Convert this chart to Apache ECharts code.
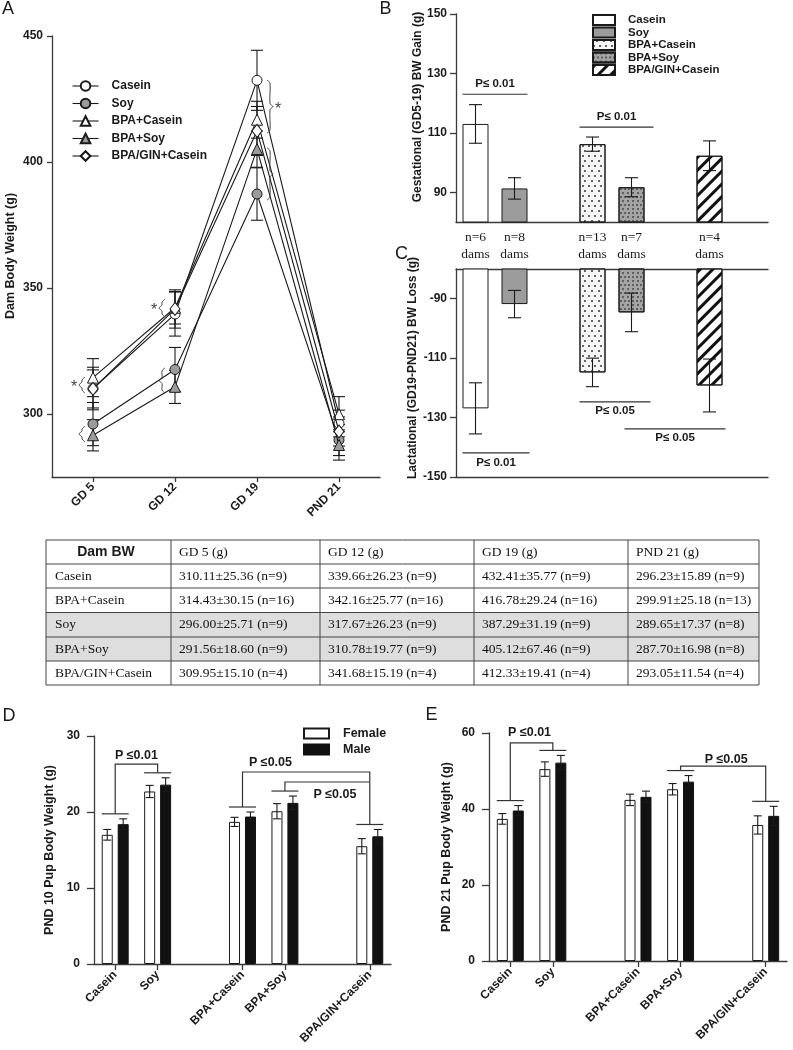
<!DOCTYPE html>
<html><head><meta charset="utf-8"><title>Dam and pup body weight</title>
<script src="https://cdn.jsdelivr.net/npm/echarts@6.0.0/dist/echarts.min.js"></script>
<style>html,body{margin:0;padding:0;background:#fff;}#chart{width:793px;height:1050px;}</style>
</head><body><div id="chart"></div><script>
// ================= DATA =================
const timePoints = ['GD 5', 'GD 12', 'GD 19', 'PND 21'];
const dietGroups = ['Casein', 'Soy', 'BPA+Casein', 'BPA+Soy', 'BPA/GIN+Casein'];
const gainSlots = ['Casein', 'Soy', ' ', 'BPA+Casein', 'BPA+Soy', '  ', 'BPA/GIN+Casein', '   '];
const pupSlots = ['Casein', 'Soy', ' ', 'BPA+Casein', 'BPA+Soy', '  ', 'BPA/GIN+Casein'];
const damTicks = [300, 350, 400, 450];
const gainTicks = [90, 110, 130, 150];
const lossTicks = [-150, -130, -110, -90];
const tableHeader = ['Dam BW', 'GD 5 (g)', 'GD 12 (g)', 'GD 19 (g)', 'PND 21 (g)'];
const tableOrder = ['Casein', 'BPA+Casein', 'Soy', 'BPA+Soy', 'BPA/GIN+Casein'];
const shadedRows = ['Soy', 'BPA+Soy'];

// Dam body weight: mean, SD, n (table) and SEM (error bars in panel A)
const caseinBW = [310.11, 339.66, 432.41, 296.23];
const caseinSD = [25.36, 26.23, 35.77, 15.89];
const caseinN = [9, 9, 9, 9];
const caseinSEM = [8.45, 8.74, 11.92, 5.30];
const soyBW = [296.00, 317.67, 387.29, 289.65];
const soySD = [25.71, 26.23, 31.19, 17.37];
const soyN = [9, 9, 9, 8];
const soySEM = [8.57, 8.74, 10.40, 6.14];
const bpaCaseinBW = [314.43, 342.16, 416.78, 299.91];
const bpaCaseinSD = [30.15, 25.77, 29.24, 25.18];
const bpaCaseinN = [16, 16, 16, 13];
const bpaCaseinSEM = [7.54, 6.44, 7.31, 6.98];
const bpaSoyBW = [291.56, 310.78, 405.12, 287.70];
const bpaSoySD = [18.60, 19.77, 67.46, 16.98];
const bpaSoyN = [9, 9, 9, 8];
const bpaSoySEM = [6.20, 6.59, 7.20, 6.00];
const bpaGinBW = [309.95, 341.68, 412.33, 293.05];
const bpaGinSD = [15.10, 15.19, 19.41, 11.54];
const bpaGinN = [4, 4, 4, 4];
const bpaGinSEM = [7.55, 7.60, 9.71, 5.77];

// Panels B and C (dietGroups order)
const gestGain = [113.0, 91.3, 106.2, 91.7, 102.3];
const gestGainErr = [6.5, 3.6, 2.4, 3.2, 5.0];
const lactLoss = [-126.9, -91.8, -114.8, -94.6, -119.2];
const lactLossErr = [8.6, 4.6, 4.8, 6.5, 8.9];
const damsN = [6, 8, 13, 7, 4];

// Panels D and E (dietGroups order)
const pnd10Female = [17.0, 22.7, 18.7, 20.1, 15.5];
const pnd10FemaleErr = [0.7, 0.8, 0.6, 1.0, 1.0];
const pnd10Male = [18.4, 23.6, 19.4, 21.2, 16.8];
const pnd10MaleErr = [0.7, 0.9, 0.6, 0.9, 0.9];
const pnd21Female = [37.4, 50.5, 42.4, 45.2, 35.8];
const pnd21FemaleErr = [1.4, 1.9, 1.5, 1.5, 2.4];
const pnd21Male = [39.6, 52.2, 43.2, 47.2, 38.2];
const pnd21MaleErr = [1.3, 1.9, 1.5, 1.6, 2.5];

// ================= STYLE =================
const SANS = 'Liberation Sans', SERIF = 'Liberation Serif', INK = '#1a1a1a', AX = '#3a3a3a';
const chart = echarts.init(document.getElementById('chart'));

const damMeans = [caseinBW, soyBW, bpaCaseinBW, bpaSoyBW, bpaGinBW];
const damSEMs = [caseinSEM, soySEM, bpaCaseinSEM, bpaSoySEM, bpaGinSEM];
const lineLook = [
  {symbol: 'circle', fill: '#ffffff', size: 10},
  {symbol: 'circle', fill: '#9b9b9b', size: 10},
  {symbol: 'triangle', fill: '#ffffff', size: 11},
  {symbol: 'triangle', fill: '#9b9b9b', size: 11},
  {symbol: 'diamond', fill: '#ffffff', size: [10, 13]}
];
const barLook = [
  {color: '#ffffff'},
  {color: '#9c9c9c'},
  {color: '#f6f6f6', decal: {symbol: 'circle', symbolSize: 1, dashArrayX: [[1.2, 3.8], [0, 2.5, 1.2, 1.3]], dashArrayY: [1.2, 2.3], color: '#333'}},
  {color: '#a4a4a4', decal: {symbol: 'circle', symbolSize: 1, dashArrayX: [[1.2, 2], [0, 1.6, 1.2, 0.4]], dashArrayY: [1.2, 1.2], color: '#4a4a4a'}},
  {color: '#ffffff', decal: {symbol: 'rect', symbolSize: 1, dashArrayX: [1, 0], dashArrayY: [2.6, 5.4], rotation: -Math.PI / 4, color: '#111'}}
];
const PUP_BAR_W = 11, PUP_GAP = 0.45;
const pupDx = PUP_BAR_W * (1 + PUP_GAP) / 2;

function errBar(cap, dx) {
  return function (params, api) {
    const x = api.value(0), m = api.value(1), e = api.value(2);
    const a = api.coord([x, m + e]), b = api.coord([x, m - e]);
    const cx = a[0] + dx, h = cap / 2;
    const s = {stroke: '#1a1a1a', lineWidth: 1.1};
    return {type: 'group', children: [
      {type: 'line', shape: {x1: cx, y1: a[1], x2: cx, y2: b[1]}, style: s},
      {type: 'line', shape: {x1: cx - h, y1: a[1], x2: cx + h, y2: a[1]}, style: s},
      {type: 'line', shape: {x1: cx - h, y1: b[1], x2: cx + h, y2: b[1]}, style: s}
    ]};
  };
}

const series = [];
// Panel A
dietGroups.forEach(function (g, i) {
  series.push({type: 'custom', name: 'errA' + i, xAxisIndex: 0, yAxisIndex: 0, z: 1, silent: true,
    data: timePoints.map(function (t, k) { return [k, damMeans[i][k], damSEMs[i][k]]; }),
    renderItem: errBar(12, 0)});
  series.push({type: 'line', name: g, xAxisIndex: 0, yAxisIndex: 0, z: 2 + i * 0.1,
    data: damMeans[i], symbol: lineLook[i].symbol, symbolSize: lineLook[i].size, showSymbol: true,
    lineStyle: {color: '#1a1a1a', width: 1.1},
    itemStyle: {color: lineLook[i].fill, borderColor: '#1a1a1a', borderWidth: 1}});
});
// Panels B, C
dietGroups.forEach(function (g, i) {
  const look = Object.assign({borderColor: '#1a1a1a', borderWidth: 1}, barLook[i]);
  series.push({type: 'bar', name: 'B:' + g, xAxisIndex: 1, yAxisIndex: 1, barWidth: 26, barGap: '-100%',
    clip: true, data: [[g, gestGain[i]]], itemStyle: look});
  series.push({type: 'custom', name: 'errB' + i, xAxisIndex: 1, yAxisIndex: 1, z: 5, silent: true,
    data: [[gainSlots.indexOf(g), gestGain[i], gestGainErr[i]]], renderItem: errBar(13, 0)});
  series.push({type: 'bar', name: 'C:' + g, xAxisIndex: 2, yAxisIndex: 2, barWidth: 26, barGap: '-100%',
    clip: true, data: [[g, lactLoss[i]]], itemStyle: look});
  series.push({type: 'custom', name: 'errC' + i, xAxisIndex: 2, yAxisIndex: 2, z: 5, silent: true,
    data: [[gainSlots.indexOf(g), lactLoss[i], lactLossErr[i]]], renderItem: errBar(13, 0)});
});
// Panels D, E
const pupPanels = [
  {xi: 4, yi: 3, f: pnd10Female, fe: pnd10FemaleErr, m: pnd10Male, me: pnd10MaleErr},
  {xi: 5, yi: 4, f: pnd21Female, fe: pnd21FemaleErr, m: pnd21Male, me: pnd21MaleErr}
];
pupPanels.forEach(function (p) {
  series.push({type: 'bar', name: 'Female', xAxisIndex: p.xi, yAxisIndex: p.yi, barWidth: PUP_BAR_W, barGap: (PUP_GAP * 100) + '%',
    data: dietGroups.map(function (g, i) { return [g, p.f[i]]; }),
    itemStyle: {color: '#ffffff', borderColor: '#1a1a1a', borderWidth: 1}});
  series.push({type: 'bar', name: 'Male', xAxisIndex: p.xi, yAxisIndex: p.yi, barWidth: PUP_BAR_W, barGap: (PUP_GAP * 100) + '%',
    data: dietGroups.map(function (g, i) { return [g, p.m[i]]; }),
    itemStyle: {color: '#111111', borderColor: '#111111', borderWidth: 1}});
  series.push({type: 'custom', name: 'errF' + p.xi, xAxisIndex: p.xi, yAxisIndex: p.yi, z: 5, silent: true,
    data: dietGroups.map(function (g, i) { return [pupSlots.indexOf(g), p.f[i], p.fe[i]]; }), renderItem: errBar(8, -pupDx)});
  series.push({type: 'custom', name: 'errM' + p.xi, xAxisIndex: p.xi, yAxisIndex: p.yi, z: 5, silent: true,
    data: dietGroups.map(function (g, i) { return [pupSlots.indexOf(g), p.m[i], p.me[i]]; }), renderItem: errBar(8, pupDx)});
});

const axLine = {show: true, onZero: false, lineStyle: {color: AX, width: 1.3}};
function tick(len, extra) { return Object.assign({show: true, length: len, inside: false, lineStyle: {color: AX, width: 1.3}}, extra || {}); }
function tickText(size, margin, extra) { return Object.assign({show: true, fontFamily: SANS, fontWeight: 'bold', fontSize: size, color: INK, margin: margin}, extra || {}); }
const noSplit = {show: false};
const gridBase = {outerBoundsMode: 'none', containLabel: false, show: false};
const notBlank = function (i, v) { return String(v).trim() !== ''; };

const option = {
  animation: false,
  backgroundColor: '#ffffff',
  textStyle: {fontFamily: SANS},
  grid: [
    Object.assign({left: 52, top: 36, width: 328, height: 441}, gridBase),
    Object.assign({left: 456, top: 14, width: 312, height: 208}, gridBase),
    Object.assign({left: 456, top: 269, width: 312, height: 208}, gridBase),
    Object.assign({left: 94, top: 736, width: 297, height: 228}, gridBase),
    Object.assign({left: 489, top: 733, width: 298, height: 228}, gridBase)
  ],
  xAxis: [
    {gridIndex: 0, type: 'category', data: timePoints, boundaryGap: true, axisLine: axLine,
      axisTick: tick(5, {alignWithLabel: true}), axisLabel: tickText(12, 8, {rotate: 45, interval: 0}), splitLine: noSplit},
    {gridIndex: 1, type: 'category', data: gainSlots, axisLine: axLine, axisTick: {show: false}, axisLabel: {show: false}, splitLine: noSplit},
    {gridIndex: 2, type: 'category', data: gainSlots, position: 'top', axisLine: axLine, axisTick: {show: false}, axisLabel: {show: false}, splitLine: noSplit},
    {gridIndex: 2, type: 'value', min: 0, max: 1, position: 'bottom', axisLine: axLine, axisTick: {show: false}, axisLabel: {show: false}, splitLine: noSplit},
    {gridIndex: 3, type: 'category', data: pupSlots, axisLine: axLine,
      axisTick: tick(6, {alignWithLabel: true, interval: notBlank}), axisLabel: tickText(12, 9, {rotate: 45, interval: 0}), splitLine: noSplit},
    {gridIndex: 4, type: 'category', data: pupSlots, axisLine: axLine,
      axisTick: tick(6, {alignWithLabel: true, interval: notBlank}), axisLabel: tickText(12, 9, {rotate: 45, interval: 0}), splitLine: noSplit}
  ],
  yAxis: [
    {gridIndex: 0, type: 'value', min: 275, max: 450, axisLine: axLine,
      axisTick: tick(5, {customValues: damTicks}), axisLabel: tickText(12, 9, {customValues: damTicks}), splitLine: noSplit},
    {gridIndex: 1, type: 'value', min: 80, max: 150, axisLine: axLine,
      axisTick: tick(6, {customValues: gainTicks}), axisLabel: tickText(12, 9, {customValues: gainTicks}), splitLine: noSplit},
    {gridIndex: 2, type: 'value', min: -150, max: -80, axisLine: axLine,
      axisTick: tick(6, {customValues: lossTicks}), axisLabel: tickText(12, 9, {customValues: lossTicks}), splitLine: noSplit},
    {gridIndex: 3, type: 'value', min: 0, max: 30, interval: 10, axisLine: axLine,
      axisTick: tick(7), axisLabel: tickText(12, 14), splitLine: noSplit},
    {gridIndex: 4, type: 'value', min: 0, max: 60, interval: 20, axisLine: axLine,
      axisTick: tick(7), axisLabel: tickText(12, 14), splitLine: noSplit}
  ],
  legend: [
    {data: dietGroups, left: 72, top: 79, orient: 'vertical', padding: 0, itemWidth: 26, itemHeight: 12, itemGap: 3.5, selectedMode: false,
      textStyle: {fontFamily: SANS, fontWeight: 'bold', fontSize: 12, color: INK, lineHeight: 14, padding: [0, 0, 0, 8]},
      lineStyle: {color: '#1a1a1a', width: 1.1}},
    {data: dietGroups.map(function (g) { return 'B:' + g; }), formatter: function (n) { return n.slice(2); },
      left: 592, top: 14, orient: 'vertical', padding: 0, icon: 'rect', itemWidth: 22, itemHeight: 10, itemGap: 0.5, selectedMode: false,
      textStyle: {fontFamily: SANS, fontWeight: 'bold', fontSize: 11.5, color: INK, lineHeight: 12, padding: [0, 0, 0, 8]}},
    {data: ['Female', 'Male'], left: 303, top: 727, orient: 'vertical', padding: 0, icon: 'rect', itemWidth: 25, itemHeight: 10, itemGap: 3, selectedMode: false,
      textStyle: {fontFamily: SANS, fontWeight: 'bold', fontSize: 12.5, color: INK, lineHeight: 13, padding: [0, 0, 0, 9]}}
  ],
  series: series
};
chart.setOption(option);

// ================= ANNOTATIONS / TABLE =================
const P = function (xi, yi, x, y) { return chart.convertToPixel({xAxisIndex: xi, yAxisIndex: yi}, [x, y]); };
const G = [];
function txt(x, y, s, o) {
  o = o || {};
  G.push({type: 'text', x: x, y: y, rotation: o.rot || 0, silent: true, z: 50,
    style: {text: s, fontFamily: o.family || SANS, fontWeight: o.weight || 'normal', fontSize: o.size || 12, fill: o.fill || INK,
      textAlign: o.align || 'center', textVerticalAlign: o.valign || 'middle', verticalAlign: o.valign || 'middle'}});
}
function seg(pts, o) {
  o = o || {};
  G.push({type: 'polyline', silent: true, z: 50, shape: {points: pts, smooth: o.smooth || 0},
    style: {stroke: o.stroke || '#333', lineWidth: o.w || 1.2, fill: null}});
}

// panel letters
txt(8, 9, 'A', {size: 18});
txt(385.5, 9, 'B', {size: 18});
txt(401.5, 254, 'C', {size: 18});
txt(9, 716.5, 'D', {size: 18});
txt(431.5, 715.5, 'E', {size: 18});

// axis titles
const R = Math.PI / 2;
txt(11, 256, 'Dam Body Weight (g)', {size: 12.5, weight: 'bold', rot: R});
txt(418, 107, 'Gestational (GD5-19) BW Gain (g)', {size: 12, weight: 'bold', rot: R});
txt(413, 368, 'Lactational (GD19-PND21) BW Loss (g)', {size: 12, weight: 'bold', rot: R});
txt(50, 850, 'PND 10 Pup Body Weight (g)', {size: 12.5, weight: 'bold', rot: R});
txt(447, 847, 'PND 21 Pup Body Weight (g)', {size: 12.5, weight: 'bold', rot: R});

// panel A braces
const braceSpecs = [ // [time index, upper value, lower value, px offset, direction, star]
  [0, 314.7, 308.3, -11, 1, true],
  [0, 295.2, 288.9, -11, 1, false],
  [1, 345.6, 338.5, -13, 1, true],
  [1, 318.3, 308.3, -13, 1, false],
  [2, 432.5, 411.5, 13, -1, true],
  [2, 405.6, 384.9, 13, -1, false]
];
braceSpecs.forEach(function (b) {
  const t = P(0, 0, b[0], b[1]), u = P(0, 0, b[0], b[2]);
  const x = t[0] + b[3], y1 = t[1], y2 = u[1], ym = (y1 + y2) / 2, w = 3 * b[4], r = Math.min(3, (y2 - y1) / 5);
  seg([[x + w, y1], [x, y1 + r], [x, ym - r], [x - w, ym], [x, ym + r], [x, y2 - r], [x + w, y2]], {w: 1, stroke: '#444', smooth: 0.3});
  if (b[5]) txt(x - b[4] * 8, ym + 3, '*', {size: 16, fill: '#444'});
});

// n labels
dietGroups.forEach(function (g, i) {
  const x = P(1, 1, gainSlots.indexOf(g), 100)[0];
  txt(x, 237, 'n=' + damsN[i], {family: SERIF, size: 13.5});
  txt(x, 254, 'dams', {family: SERIF, size: 13.5});
});

// B / C significance
const sx = function (g) { return P(1, 1, gainSlots.indexOf(g), 100)[0]; };
const yB = function (v) { return P(1, 1, 0, v)[1]; };
const yC = function (v) { return P(2, 2, 0, v)[1]; };
function sigLine(x1, x2, y, label, dy) {
  seg([[x1, y], [x2, y]], {w: 1.2});
  txt((x1 + x2) / 2, y + dy, label, {size: 11.5, weight: 'bold'});
}
sigLine(sx('Casein') - 13, sx('Soy') + 13, yB(123.0), 'P≤ 0.01', -10);
sigLine(sx('BPA+Casein') - 13, sx('BPA+Soy') + 22, yB(111.9), 'P≤ 0.01', -10);
sigLine(sx('Casein') - 13, sx('Soy') + 15, yC(-141.9), 'P≤ 0.01', 10);
sigLine(sx('BPA+Casein') - 13, sx('BPA+Soy') + 19, yC(-124.7), 'P≤ 0.05', 9);
sigLine(sx('BPA+Soy') - 7, sx('BPA/GIN+Casein') + 16, yC(-133.8), 'P≤ 0.05', 9);

// D / E brackets
function pupGeom(p) {
  const cx = function (g) { return P(p.xi, p.yi, pupSlots.indexOf(g), 0)[0]; };
  const gy = function (g) { const i = dietGroups.indexOf(g); return P(p.xi, p.yi, 0, Math.max(p.f[i] + p.fe[i], p.m[i] + p.me[i]))[1] - 5; };
  const vy = function (v) { return P(p.xi, p.yi, 0, v)[1]; };
  return {cx: cx, gy: gy, vy: vy};
}
function groupLine(q, g) { const x = q.cx(g), y = q.gy(g); seg([[x - 13.5, y], [x + 13.5, y]]); }
const qD = pupGeom(pupPanels[0]), qE = pupGeom(pupPanels[1]);
['Casein', 'Soy', 'BPA+Casein', 'BPA+Soy', 'BPA/GIN+Casein'].forEach(function (g) { groupLine(qD, g); });
['Casein', 'Soy', 'BPA+Soy', 'BPA/GIN+Casein'].forEach(function (g) { groupLine(qE, g); });
function bracket(q, g1, g2, topV, closeEnd) {
  const x1 = q.cx(g1), x2 = q.cx(g2), y = q.vy(topV);
  const pts = [[x1, q.gy(g1)], [x1, y], [x2, y]];
  if (closeEnd) pts.push([x2, q.gy(g2)]);
  seg(pts);
  return [x1, x2, y];
}
let b = bracket(qD, 'Casein', 'Soy', 26.3, true);
txt((b[0] + b[1]) / 2, b[2] - 9, 'P ≤0.01', {size: 12.5, weight: 'bold'});
b = bracket(qD, 'BPA+Casein', 'BPA/GIN+Casein', 25.26, true);
txt(b[0] + 28, b[2] - 9, 'P ≤0.05', {size: 12.5, weight: 'bold'});
b = bracket(qD, 'BPA+Soy', 'BPA/GIN+Casein', 23.95, false);
txt(b[0] + 50, b[2] + 13, 'P ≤0.05', {size: 12.5, weight: 'bold'});
b = bracket(qE, 'Casein', 'Soy', 57.4, true);
txt((b[0] + b[1]) / 2 - 2, b[2] - 10, 'P ≤0.01', {size: 12.5, weight: 'bold'});
b = bracket(qE, 'BPA+Soy', 'BPA/GIN+Casein', 51.3, true);
txt((b[0] + b[1]) / 2 + 3, b[2] - 7, 'P ≤0.05', {size: 12.5, weight: 'bold'});

// Table
const colX = [46, 171, 320, 474, 628, 759];
const rowY = [540, 564, 588, 612.5, 637, 661, 685];
const tableData = {
  'Casein': [caseinBW, caseinSD, caseinN],
  'BPA+Casein': [bpaCaseinBW, bpaCaseinSD, bpaCaseinN],
  'Soy': [soyBW, soySD, soyN],
  'BPA+Soy': [bpaSoyBW, bpaSoySD, bpaSoyN],
  'BPA/GIN+Casein': [bpaGinBW, bpaGinSD, bpaGinN]
};
tableOrder.forEach(function (g, r) {
  if (shadedRows.indexOf(g) >= 0) {
    G.push({type: 'rect', silent: true, z: 40, shape: {x: colX[0], y: rowY[r + 1], width: colX[5] - colX[0], height: rowY[r + 2] - rowY[r + 1]},
      style: {fill: '#dedede'}});
  }
});
rowY.forEach(function (y) { G.push({type: 'line', silent: true, z: 45, shape: {x1: colX[0], y1: y, x2: colX[5], y2: y}, style: {stroke: '#444', lineWidth: 1}}); });
colX.forEach(function (x) { G.push({type: 'line', silent: true, z: 45, shape: {x1: x, y1: rowY[0], x2: x, y2: rowY[6]}, style: {stroke: '#444', lineWidth: 1}}); });
tableHeader.forEach(function (h, c) {
  const yc = (rowY[0] + rowY[1]) / 2;
  if (c === 0) txt(106, yc, h, {size: 14, weight: 'bold'});
  else txt(colX[c] + 8, yc, h, {family: SERIF, size: 13.5, align: 'left', fill: '#111'});
});
tableOrder.forEach(function (g, r) {
  const yc = (rowY[r + 1] + rowY[r + 2]) / 2;
  const d = tableData[g];
  txt(colX[0] + 9, yc, g, {family: SERIF, size: 13.5, align: 'left', fill: '#111'});
  timePoints.forEach(function (t, k) {
    const s = d[0][k].toFixed(2) + '±' + d[1][k].toFixed(2) + ' (n=' + d[2][k] + ')';
    txt(colX[k + 1] + 8, yc, s, {family: SERIF, size: 13.5, align: 'left', fill: '#111'});
  });
});

chart.setOption({graphic: {elements: G}});
</script></body></html>
